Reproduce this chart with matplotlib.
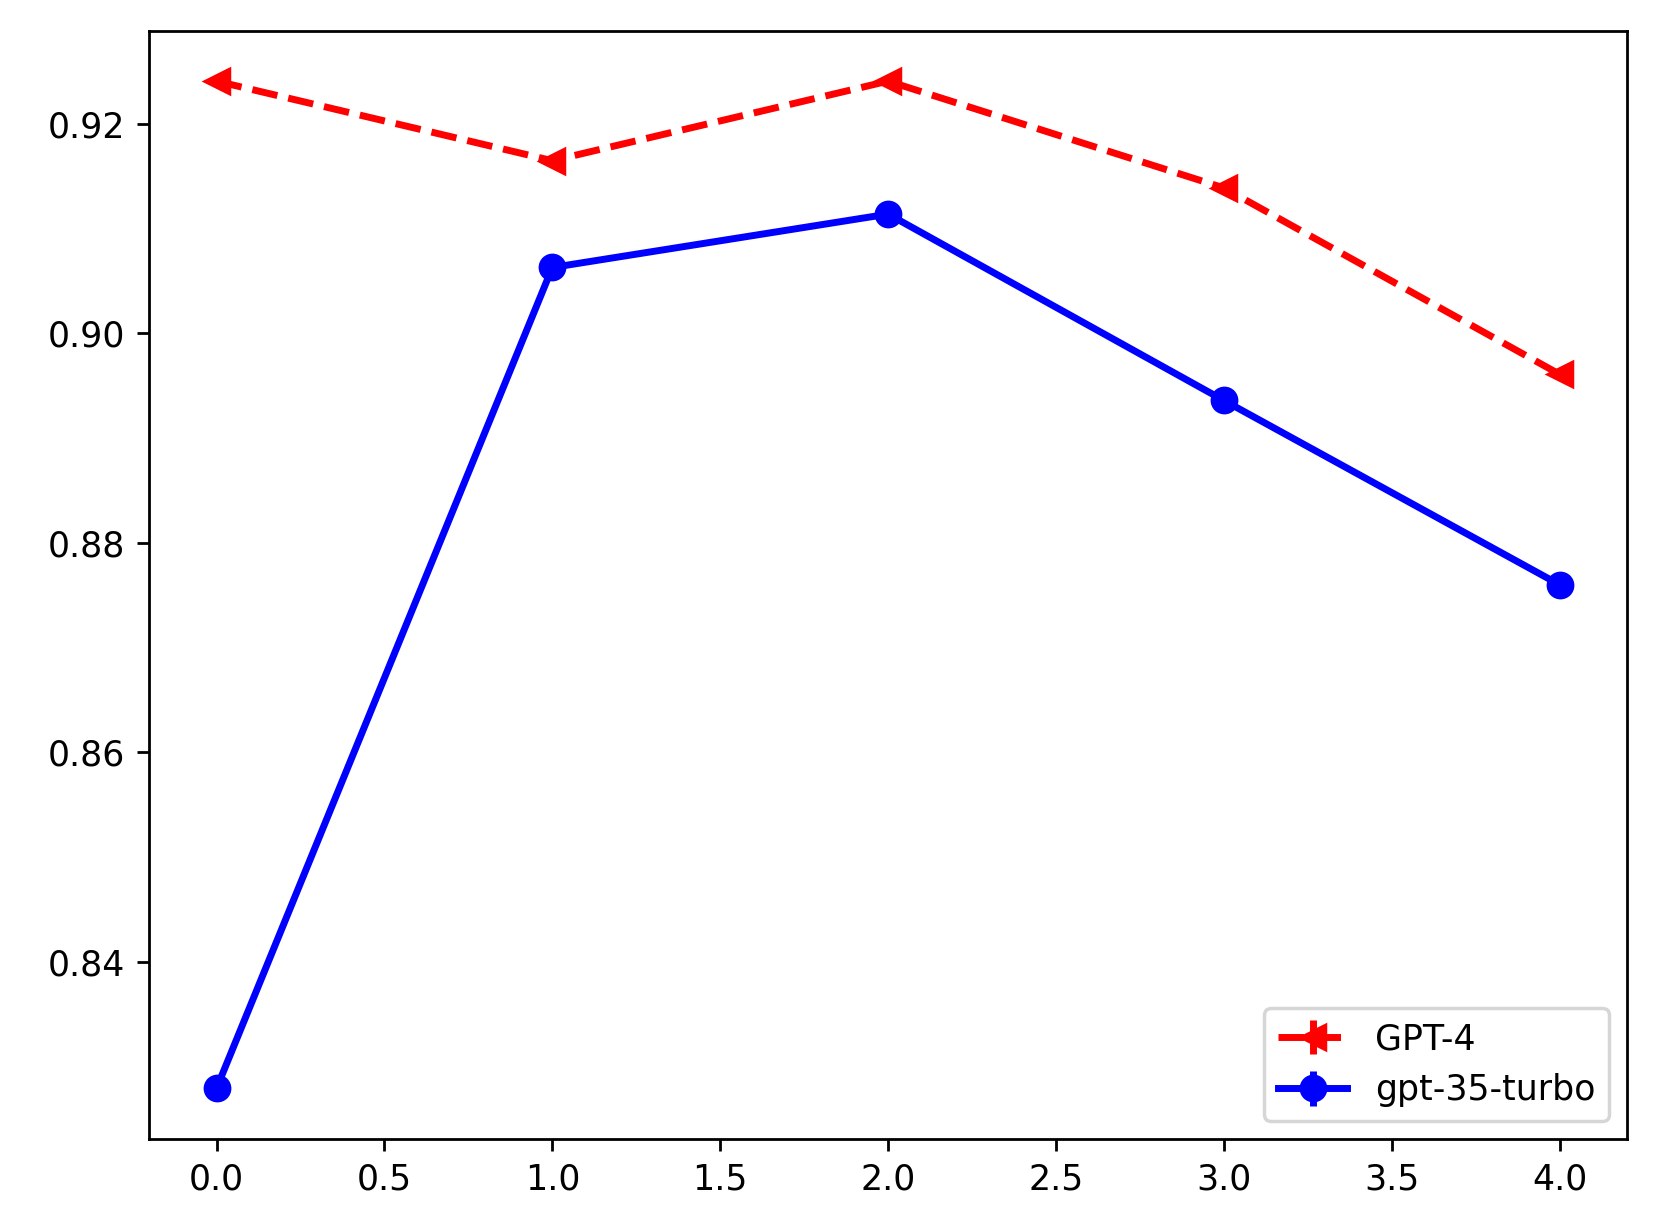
import numpy as np
import matplotlib
matplotlib.use("Agg")
import matplotlib.pyplot as plt

x = [0, 1, 2, 3, 4]
gpt4 = [0.9241, 0.9165, 0.9241, 0.9139, 0.8961]
gpt35 = [0.8279, 0.9063, 0.9114, 0.8936, 0.8760]
err = [0, 0, 0, 0, 0]

fig, ax = plt.subplots(figsize=(6.64, 4.924), dpi=250)
ax.errorbar(x, gpt4, yerr=err, color="red", linestyle="--", marker="<",
            linewidth=2, markersize=7, label="GPT-4")
ax.errorbar(x, gpt35, yerr=err, color="blue", linestyle="-", marker="o",
            linewidth=2, markersize=7, label="gpt-35-turbo")
ax.legend(loc="lower right")
fig.subplots_adjust(left=0.09, right=0.98, top=0.975, bottom=0.075)
fig.savefig("out.png")
